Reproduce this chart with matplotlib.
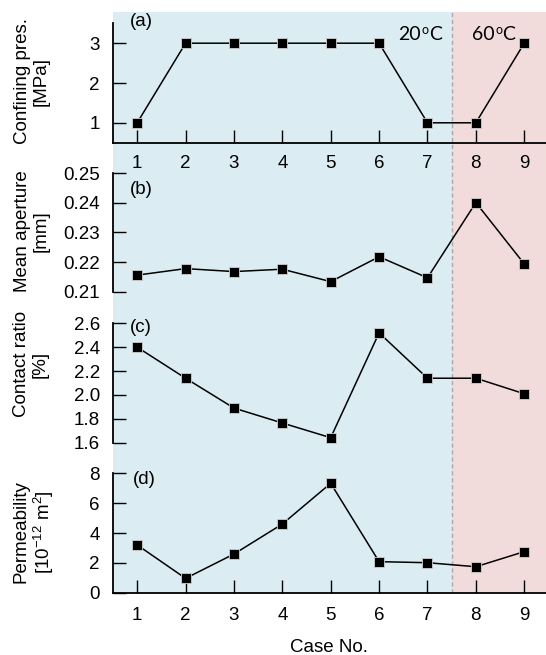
import matplotlib
matplotlib.use("Agg")
import matplotlib.pyplot as plt

plt.rcParams['font.family'] = ['Liberation Sans', 'DejaVu Sans']
plt.rcParams['mathtext.default'] = 'regular'

cases = [1, 2, 3, 4, 5, 6, 7, 8, 9]
confining = [1, 3, 3, 3, 3, 3, 1, 1, 3]
aperture = [0.2156, 0.2178, 0.2168, 0.2176, 0.2134, 0.2218, 0.2147, 0.2401, 0.2194]
contact = [2.40, 2.14, 1.89, 1.765, 1.642, 2.52, 2.14, 2.14, 2.01]
perm = [3.2, 0.96, 2.59, 4.6, 7.33, 2.08, 2.01, 1.74, 2.75]

ylabels = ["Confining pres.\n[MPa]", "Mean aperture\n[mm]", "Contact ratio\n[%]",
           "Permeability\n[10$^{-12}$ m$^{2}$]"]
panel_tags = ["(a)", "(b)", "(c)", "(d)"]
temp_values = ["20", "60"]

W, H = 546, 655
fig = plt.figure(figsize=(W / 100, H / 100), dpi=100)

def fx(p):
    return p / W

def fy(p):
    return 1 - p / H

XL, XR = 113, 546
xlim = (0.5, 9.45)
blue = '#dbedf3'
pink = '#f2dbdb'

# background shading
bg = fig.add_axes([fx(XL), fy(592.7), fx(XR - XL), (592.7 - 12) / H], zorder=0)
bg.set_xlim(*xlim)
bg.set_ylim(0, 1)
bg.axvspan(xlim[0], 7.5, color=blue, lw=0)
bg.axvspan(7.5, xlim[1], color=pink, lw=0)
bg.axvline(7.5, color='#a8a8a8', lw=1.0, ls=(0, (3, 2)))
bg.axis('off')

panels = [
    (confining, 23.3, 142.7, (0.5, 3.5), [1, 2, 3], ['1', '2', '3'], True),
    (aperture, 173.3, 291.7, (0.21, 0.25), [0.21, 0.22, 0.23, 0.24, 0.25],
     ['0.21', '0.22', '0.23', '0.24', '0.25'], False),
    (contact, 323.3, 442.7, (1.6, 2.6), [1.6, 1.8, 2.0, 2.2, 2.4, 2.6],
     ['1.6', '1.8', '2.0', '2.2', '2.4', '2.6'], False),
    (perm, 473.3, 592.7, (0, 8), [0, 2, 4, 6, 8], ['0', '2', '4', '6', '8'], True),
]
label_y = [81, 231, 364, 532]
label_x = [31.5, 32, 31, 34]
tag_pos = [(130, 22), (130, 189), (130, 328), (133, 480)]
xpads = [8.5, 10.5]

for i, (vals, top, bot, yl, yt, ytl, xaxis) in enumerate(panels):
    ax = fig.add_axes([fx(XL), fy(bot), fx(XR - XL), (bot - top) / H], zorder=2)
    ax.set_facecolor('none')
    ax.set_xlim(*xlim)
    ax.set_ylim(*yl)
    ax.plot(cases, vals, color='black', lw=1.1, marker='s', ms=7.6,
            mfc='black', mec='#cfcfcf', mew=0.6, clip_on=False)
    ax.spines['top'].set_visible(False)
    ax.spines['right'].set_visible(False)
    ax.spines['left'].set_linewidth(1.3)
    ax.set_yticks(yt)
    ax.set_yticklabels(ytl)
    ax.tick_params(axis='y', direction='in', length=9.5, width=1.0, pad=9.5,
                   labelsize=13.5)
    if xaxis:
        ax.spines['bottom'].set_linewidth(1.3)
        ax.set_xticks(cases)
        ax.set_xticklabels([str(c) for c in cases])
        ax.tick_params(axis='x', direction='in', length=9.5, width=1.0,
                       pad=xpads[0] if i == 0 else xpads[1], labelsize=13.5)
    else:
        ax.spines['bottom'].set_visible(False)
        ax.set_xticks([])
    fig.text(fx(label_x[i]), fy(label_y[i]), ylabels[i], rotation=90,
             ha='center', va='center', multialignment='center', fontsize=13.5,
             linespacing=1.15)
    fig.text(fx(tag_pos[i][0]), fy(tag_pos[i][1]), panel_tags[i], ha='left',
             va='center', fontsize=13.5)

# temperature labels: number, raised small "o", then "C"
renderer = fig.canvas.get_renderer()
tfam = ['Lato', 'DejaVu Sans']
for start, val in zip([398.5, 472], temp_values):
    base_y = 40.5
    t1 = fig.text(fx(start), fy(base_y), val, ha='left', va='baseline',
                  fontsize=14, family=tfam)
    w1 = t1.get_window_extent(renderer).width
    t2 = fig.text(fx(start + w1 + 0.5), fy(base_y - 6.0), "o", ha='left',
                  va='baseline', fontsize=9, family=tfam)
    w2 = t2.get_window_extent(renderer).width
    fig.text(fx(start + w1 + w2 + 0.8), fy(base_y), "C", ha='left',
             va='baseline', fontsize=14, family=tfam)

fig.text(fx(329), fy(647), "Case No.", ha='center', va='center', fontsize=13.5)

fig.savefig("out.png", dpi=100)
